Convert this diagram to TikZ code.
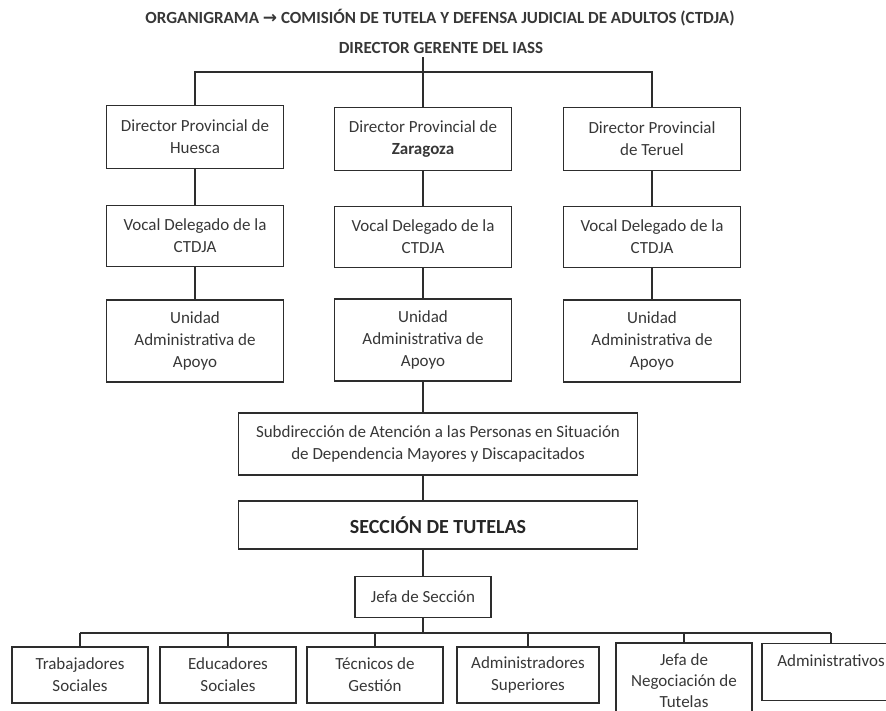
\documentclass[tikz,border=0pt]{standalone}
\usepackage{fontspec}
\setmainfont{Carlito}
\newfontfamily\flechafont{DejaVu Sans}
\usetikzlibrary{positioning,calc}
\definecolor{lineaorg}{RGB}{45,45,45}
\definecolor{textoorg}{RGB}{55,55,55}

\begin{document}
\begin{tikzpicture}[x=1pt,y=-1pt,
    caja/.style={draw=lineaorg, line width=1.2pt, align=center, text=textoorg, inner sep=2pt, font=\fontsize{17}{22}\selectfont},
    prov/.style={caja, minimum width=177pt, minimum height=63pt},
    vocal/.style={caja, minimum width=177pt, minimum height=61pt},
    unidad/.style={caja, minimum width=177pt, minimum height=82pt},
    base/.style={caja, minimum width=136pt, minimum height=56pt},
    cabecera/.style={text=textoorg, font=\bfseries\fontsize{17}{19}\selectfont},
    enlace/.style={draw=lineaorg, line width=2.2pt}]
    \useasboundingbox (0,0) rectangle (886,711);

    % Títulos
    \node[cabecera] (titulo) at (440,18) {ORGANIGRAMA {\flechafont →} COMISIÓN DE TUTELA Y DEFENSA JUDICIAL DE ADULTOS (CTDJA)};
    \node[cabecera] (dir) at (441,48) {DIRECTOR GERENTE DEL IASS};

    % Cajas provinciales
    \node[prov] (hue) at (195,137) {Director Provincial de\\ Huesca};
    \node[prov] (zar) at (423,139) {Director Provincial de\\ \textbf{Zaragoza}};
    \node[prov] (ter) at (652,139) {Director Provincial\\ de Teruel};

    \node[vocal] (vochue) at (195,236) {Vocal Delegado de la\\ CTDJA};
    \node[vocal] (voczar) at (423,237) {Vocal Delegado de la\\ CTDJA};
    \node[vocal] (vocter) at (652,237) {Vocal Delegado de la\\ CTDJA};

    \node[unidad] (unihue) at (195,341) {Unidad\\ Administrativa de\\ Apoyo};
    \node[unidad] (uniza) at (423,340) {Unidad\\ Administrativa de\\ Apoyo};
    \node[unidad] (uniter) at (652,341) {Unidad\\ Administrativa de\\ Apoyo};

    % Subdirección y sección
    \node[caja, minimum width=399pt, minimum height=62pt] (subdir) at (438,444) {Subdirección de Atención a las Personas en Situación\\ de Dependencia Mayores y Discapacitados};
    \node[caja, minimum width=399pt, minimum height=48pt, font=\bfseries\fontsize{20}{24}\selectfont, text=black!85] (seccion) at (438,525) {SECCIÓN DE TUTELAS};
    \node[caja, minimum width=136pt, minimum height=41pt] (jefa) at (423,597) {Jefa de Sección};

    % Personal de la sección
    \node[base] (trab) at (80,675) {Trabajadores\\ Sociales};
    \node[base] (educ) at (228,675) {Educadores\\ Sociales};
    \node[base] (tecn) at (375,675) {Técnicos de\\ Gestión};
    \node[base, minimum width=142pt] (adsup) at (528,675) {Administradores\\ Superiores};
    \node[base, minimum height=76pt, font=\fontsize{17}{21}\selectfont] (jneg) at (684,681) {Jefa de\\ Negociación de\\ Tutelas};
    \node[base, minimum width=138pt, minimum height=57pt] (admin) at (831,672) {Administrativos\\ ~};

    % Líneas
    \coordinate (bus1) at (0,72);
    \coordinate (bus2) at (0,633);
    \draw[enlace] (dir.south -| zar.north) -- (zar.north);
    \draw[enlace] (hue.north) -- (hue.north |- bus1) -- (ter.north |- bus1) -- (ter.north);
    \draw[enlace] (hue) -- (vochue);
    \draw[enlace] (vochue) -- (unihue);
    \draw[enlace] (zar) -- (voczar);
    \draw[enlace] (voczar) -- (uniza);
    \draw[enlace] (ter) -- (vocter);
    \draw[enlace] (vocter) -- (uniter);
    \draw[enlace] (uniza.south) -- (uniza.south |- subdir.north);
    \draw[enlace] (subdir.south -| uniza) -- (seccion.north -| uniza);
    \draw[enlace] (seccion.south -| jefa) -- (jefa.north);
    \draw[enlace] (jefa.south) -- (jefa.south |- bus2);
    \draw[enlace] (trab.north |- bus2) -- (admin.north |- bus2);
    \foreach \n in {trab,educ,tecn,adsup,jneg,admin}
        \draw[enlace] (\n.north |- bus2) -- (\n.north);
\end{tikzpicture}
\end{document}
